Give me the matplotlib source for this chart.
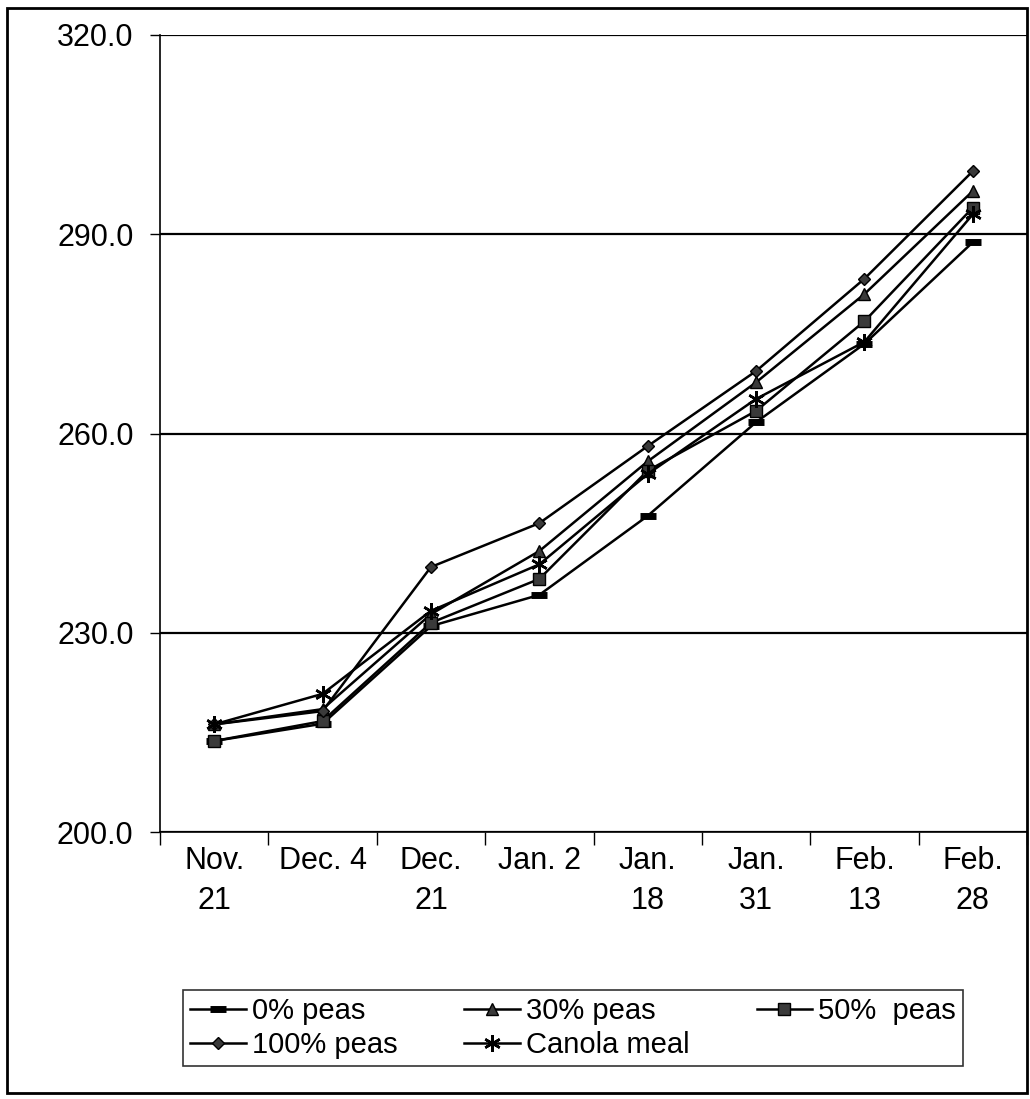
import numpy as np
import matplotlib.pyplot as plt
from matplotlib.patches import Rectangle

plt.rcParams['font.family'] = ['Liberation Sans', 'DejaVu Sans']

dates = ["Nov.\n21", "Dec. 4", "Dec.\n21", "Jan. 2", "Jan.\n18", "Jan.\n31", "Feb.\n13", "Feb.\n28"]

peas_0 = [213.7, 216.3, 231.0, 235.7, 247.6, 261.7, 273.5, 288.8]
peas_30 = [216.2, 218.5, 232.8, 242.3, 255.8, 267.7, 281.0, 296.5]
peas_50 = [213.7, 216.7, 231.5, 238.1, 254.4, 263.4, 276.9, 294.0]
peas_100 = [216.2, 218.2, 239.9, 246.5, 258.1, 269.4, 283.3, 299.5]
canola = [216.2, 220.8, 233.3, 240.3, 253.9, 265.2, 273.8, 293.0]

y_ticks = [200.0, 230.0, 260.0, 290.0, 320.0]

fig = plt.figure(figsize=(10.30, 10.99), dpi=100)
ax = fig.add_axes([160 / 1030, 1 - 832 / 1099, (1027 - 160) / 1030, (832 - 35) / 1099])

x = np.arange(len(dates))
series = [
    ("0% peas", peas_0, dict(marker="_", markersize=11, markeredgewidth=5)),
    ("30% peas", peas_30, dict(marker="^", markersize=8)),
    ("50%  peas", peas_50, dict(marker="s", markersize=8)),
    ("100% peas", peas_100, dict(marker="D", markersize=6)),
    ("Canola meal", canola, dict(marker=(6, 2, 0), markersize=12, markeredgewidth=1.8)),
]

handles = []
for label, vals, mk in series:
    h, = ax.plot(x, vals, color="black", lw=1.8, label=label,
                 markerfacecolor="#3a3a3a", markeredgecolor="black", **mk)
    handles.append(h)

ax.set_xlim(-0.5, len(dates) - 0.5)
ax.set_ylim(200, 320)
ax.set_yticks(y_ticks)
ax.set_yticklabels([f"{v:.1f}" for v in y_ticks], fontsize=22)
ax.set_xticks(x)
ax.set_xticklabels(dates, fontsize=22, linespacing=1.45)
ax.tick_params(axis="x", which="major", length=0, pad=10)
ax.set_xticks(np.arange(-0.5, len(dates), 1.0), minor=True)
ax.tick_params(axis="x", which="minor", length=9, width=1, direction="out")
ax.tick_params(axis="y", length=7, width=1, direction="out", pad=12)

ax.yaxis.grid(True, color="black", lw=1.6)
ax.set_axisbelow(True)
for side in ["top", "right"]:
    ax.spines[side].set_visible(False)
for side in ["left", "bottom"]:
    ax.spines[side].set_linewidth(1.2)

# reorder so entries run across rows
order = [0, 3, 1, 4, 2]
leg = fig.legend([handles[i] for i in order], [series[i][0] for i in order],
                 ncol=3, loc="lower left", bbox_to_anchor=(183 / 1030, 1 - 1066 / 1099, (963 - 183) / 1030, 86 / 1099),
                 mode="expand", fontsize=21, frameon=True, fancybox=False,
                 edgecolor="black", handlelength=1.9, handletextpad=0.2,
                 borderpad=0.25, labelspacing=0.2, columnspacing=1.0, borderaxespad=0)
leg.get_frame().set_linewidth(1.2)

fig.patches.append(Rectangle((7 / 1030, 1 - 1093 / 1099), (1027 - 7) / 1030, (1093 - 8) / 1099,
                             transform=fig.transFigure, fill=False, edgecolor="black", lw=2))

fig.savefig("out.png", dpi=100)
